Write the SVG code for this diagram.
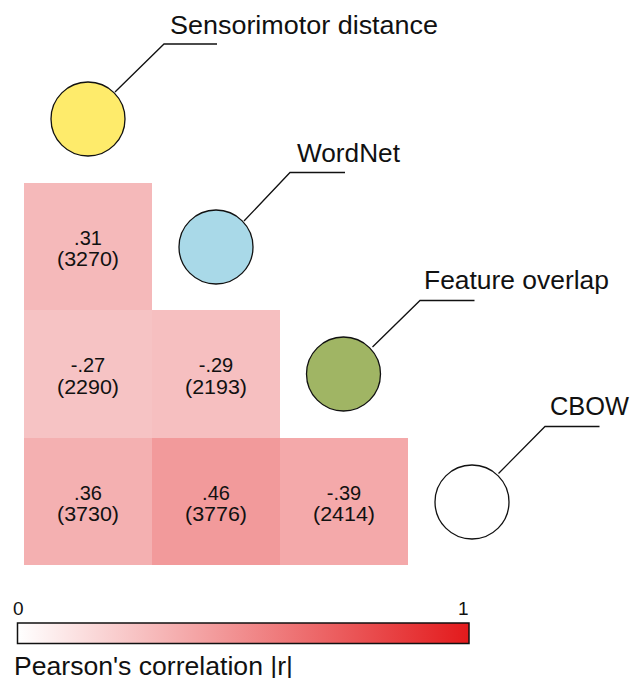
<svg xmlns="http://www.w3.org/2000/svg" width="633" height="678" viewBox="0 0 633 678">
<defs>
<linearGradient id="scale" x1="0" y1="0" x2="1" y2="0">
<stop offset="0" stop-color="#ffffff"/>
<stop offset="1" stop-color="#e31a1c"/>
</linearGradient>
<style>
text{font-family:"Liberation Sans",Arial,sans-serif;fill:#111}
.lbl{font-size:25px}
.num{font-size:20px;text-anchor:middle}
.node{stroke:#111;stroke-width:1.3}
.conn{fill:none;stroke:#111;stroke-width:1.3}
</style>
</defs>
<rect width="633" height="678" fill="#fff"/>
<g id="matrix">
<g id="cell-sm-wn"><rect x="24" y="183" width="128" height="127" fill="#f5b9ba"/><text class="num" x="88" y="244.5">.31</text><text class="num" x="88" y="266" textLength="62" lengthAdjust="spacingAndGlyphs">(3270)</text></g>
<g id="cell-sm-fo"><rect x="24" y="310" width="128" height="128" fill="#f6c3c4"/><text class="num" x="88" y="372">-.27</text><text class="num" x="88" y="393.5" textLength="62" lengthAdjust="spacingAndGlyphs">(2290)</text></g>
<g id="cell-wn-fo"><rect x="152" y="310" width="128" height="128" fill="#f6bfc0"/><text class="num" x="216" y="372">-.29</text><text class="num" x="216" y="393.5" textLength="62" lengthAdjust="spacingAndGlyphs">(2193)</text></g>
<g id="cell-sm-cb"><rect x="24" y="438" width="128" height="127" fill="#f4b0b1"/><text class="num" x="88" y="499.5">.36</text><text class="num" x="88" y="521" textLength="62" lengthAdjust="spacingAndGlyphs">(3730)</text></g>
<g id="cell-wn-cb"><rect x="152" y="438" width="128" height="127" fill="#f29a9b"/><text class="num" x="216" y="499.5">.46</text><text class="num" x="216" y="521" textLength="62" lengthAdjust="spacingAndGlyphs">(3776)</text></g>
<g id="cell-fo-cb"><rect x="280" y="438" width="128" height="127" fill="#f4a9aa"/><text class="num" x="344" y="499.5">-.39</text><text class="num" x="344" y="521" textLength="62" lengthAdjust="spacingAndGlyphs">(2414)</text></g>
</g>
<g id="connectors">
<polyline class="conn" points="115,92 164,44 217,44"/>
<polyline class="conn" points="244,221 290,172.5 345,172.5"/>
<polyline class="conn" points="372.5,347 420,300.5 474.5,300.5"/>
<polyline class="conn" points="498.5,473.5 545,426.5 599.5,426.5"/>
</g>
<g id="sensorimotor"><circle class="node" cx="88" cy="119" r="37" fill="#feeb6b"/><text class="lbl" x="170" y="34" textLength="268" lengthAdjust="spacingAndGlyphs">Sensorimotor distance</text></g>
<g id="wordnet"><circle class="node" cx="216" cy="247" r="37" fill="#a9d9e8"/><text class="lbl" x="297" y="162" textLength="103" lengthAdjust="spacingAndGlyphs">WordNet</text></g>
<g id="feature"><circle class="node" cx="343.5" cy="374" r="37" fill="#a0b564"/><text class="lbl" x="424" y="289" textLength="185" lengthAdjust="spacingAndGlyphs">Feature overlap</text></g>
<g id="cbow"><circle class="node" cx="472" cy="502" r="37" fill="#ffffff"/><text class="lbl" x="550" y="415" textLength="79" lengthAdjust="spacingAndGlyphs">CBOW</text></g>
<g id="legend">
<text x="13" y="615" style="font-size:19px">0</text>
<text x="468.5" y="615" style="font-size:19px;text-anchor:end">1</text>
<rect x="17.5" y="623" width="451.5" height="20.5" fill="url(#scale)" stroke="#111" stroke-width="1.5"/>
<text x="14" y="674.5" style="font-size:25.5px" textLength="279" lengthAdjust="spacingAndGlyphs">Pearson's correlation |r|</text>
</g>
</svg>
